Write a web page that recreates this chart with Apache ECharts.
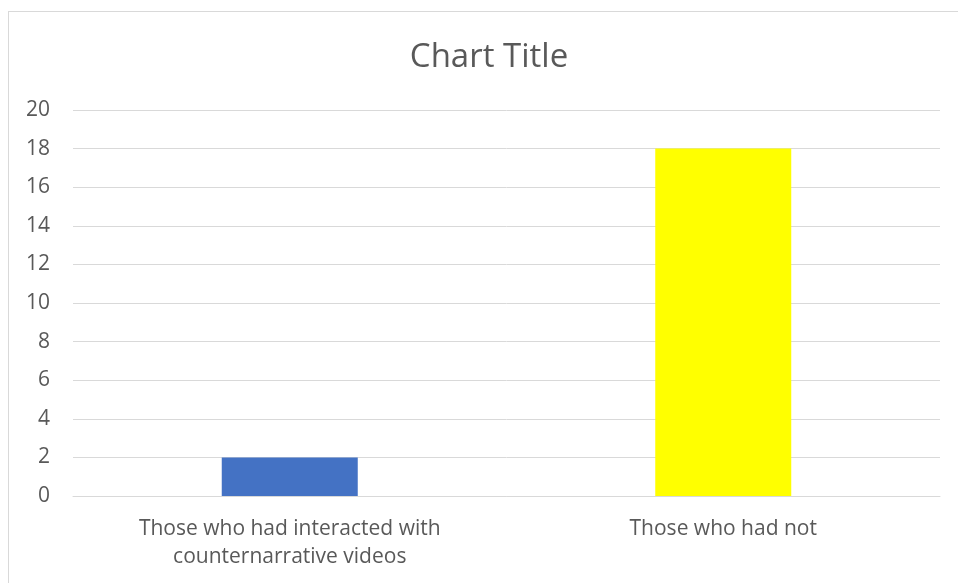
<!DOCTYPE html>
<html>
<head>
<meta charset="utf-8">
<script src="https://cdn.jsdelivr.net/npm/echarts@6/dist/echarts.min.js"></script>
<style>
html,body{margin:0;padding:0;background:#fff;overflow:hidden;}
#frame{position:absolute;left:8px;top:11px;width:1000px;height:620px;border:1px solid #d9d9d9;box-sizing:border-box;}
#chart{position:absolute;left:0;top:0;width:958px;height:583px;}
</style>
</head>
<body>
<div id="frame"></div>
<div id="chart"></div>
<script>
const categories = ['Those who had interacted with\ncounternarrative videos', 'Those who had not'];
const values = [2, 18];
const barColors = ['#4472C4', '#FFFF00'];
const titleText = 'Chart Title';

const chart = echarts.init(document.getElementById('chart'), null, {renderer: 'canvas'});
chart.setOption({
  backgroundColor: 'transparent',
  animation: false,
  title: {
    text: titleText,
    left: 484, top: 36, textAlign: 'center',
    textStyle: {fontFamily: 'Open Sans', fontSize: 33, fontWeight: 'normal', color: '#595959'}
  },
  grid: {left: 73, right: 18, top: 110, bottom: 87, containLabel: false},
  xAxis: {
    type: 'category',
    data: categories,
    axisLine: {show: true, lineStyle: {color: '#d9d9d9', width: 1}},
    axisTick: {show: false},
    axisLabel: {fontFamily: 'Open Sans', fontSize: 21, color: '#595959', margin: 19, lineHeight: 28, interval: 0}
  },
  yAxis: {
    type: 'value',
    min: 0, max: 20, interval: 2,
    axisLine: {show: false},
    axisTick: {show: false},
    splitLine: {lineStyle: {color: '#d9d9d9', width: 1}},
    axisLabel: {fontFamily: 'Open Sans', fontSize: 21, color: '#595959', margin: 23}
  },
  series: [{
    type: 'bar',
    data: values.map((v, i) => ({value: v, itemStyle: {color: barColors[i]}})),
    barWidth: 136
  }]
});
</script>
</body>
</html>
